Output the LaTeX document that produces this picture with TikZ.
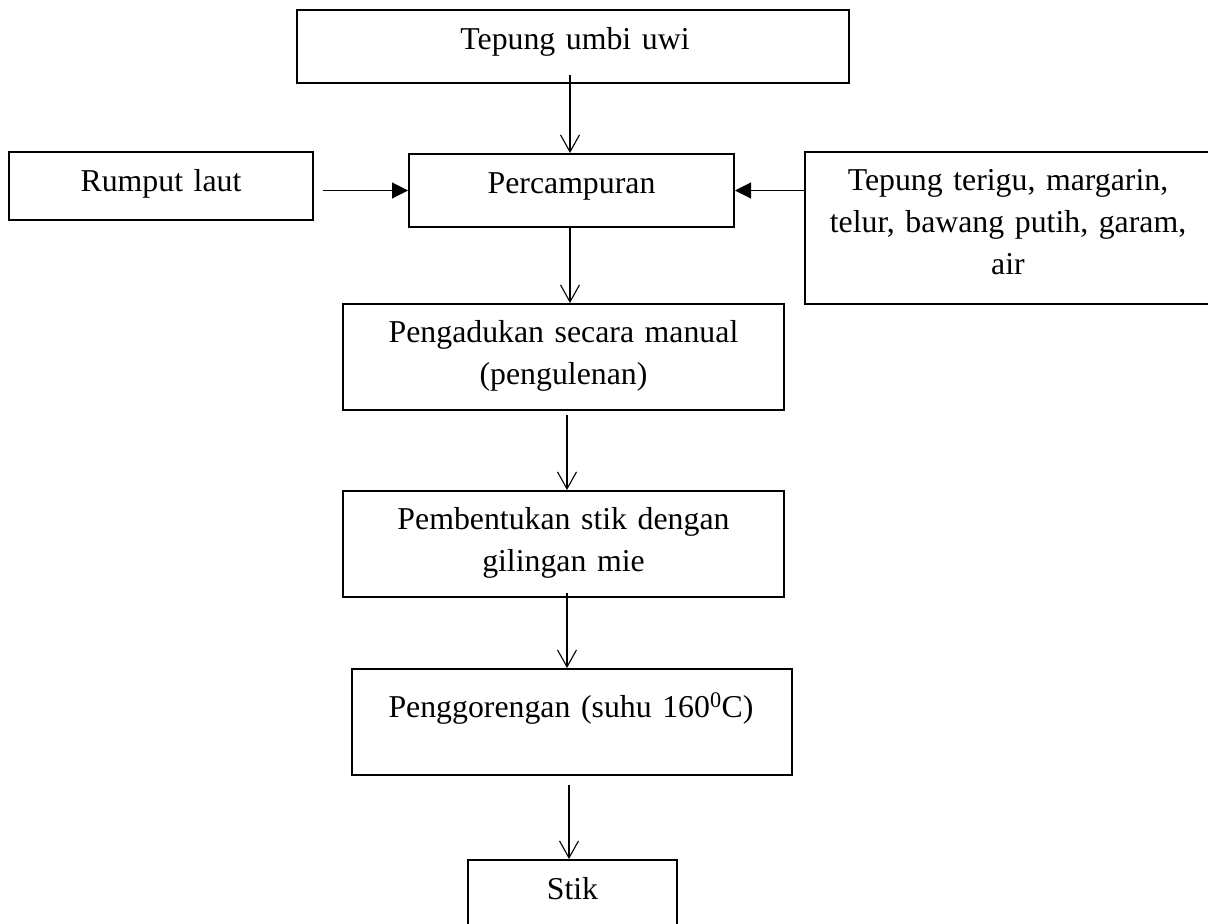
\documentclass[tikz,border=0pt]{standalone}
\usepackage{fontspec}
\setmainfont{Liberation Serif}
\usetikzlibrary{arrows.meta,calc}
\begin{document}
\begin{tikzpicture}[x=1pt,y=-1pt,
  box/.style={draw=black, line width=2pt, rectangle, inner sep=0pt},
  txt/.style={anchor=base, align=center, inner sep=0pt, text width=400pt,
    font=\fontsize{31.8}{42}\selectfont},
  varrow/.style={draw=black, line width=1.1pt, -{Straight Barb[length=17pt,width=19pt]}},
  harrow/.style={draw=black, line width=1.1pt, -{Triangle[length=16pt,width=16pt]}},
]
\useasboundingbox (0,0) rectangle (1208,924);
\clip (0,0) rectangle (1208,924);

% boxes
\node[box, minimum width=552pt, minimum height=73pt] (A) at (573,46.5) {};
\node[box, minimum width=304pt, minimum height=68pt] (R) at (161,186) {};
\node[box, minimum width=325pt, minimum height=73pt] (P) at (571.5,190.5) {};
\node[box, minimum width=406pt, minimum height=152pt] (T) at (1008,228) {};
\node[box, minimum width=441pt, minimum height=106pt] (G) at (563.5,357) {};
\node[box, minimum width=441pt, minimum height=106pt] (B) at (563.5,544) {};
\node[box, minimum width=440pt, minimum height=106pt] (F) at (572,722) {};
\node[box, minimum width=209pt, minimum height=72pt] (S) at (572.5,896) {};

% texts
\node[txt] (tA) at ($(A.north)+(2,40)$) {Tepung umbi uwi};
\node[txt] (tR) at ($(R.north)+(0,40)$) {Rumput laut};
\node[txt] (tP) at ($(P.north)+(0,40)$) {Percampuran};
\node[txt] (tT) at ($(T.north)+(0,39)$) {Tepung terigu, margarin,\\telur, bawang putih, garam,\\air};
\node[txt] (tG) at ($(G.north)+(0,39)$) {Pengadukan secara manual\\(pengulenan)};
\node[txt] (tB) at ($(B.north)+(0,39)$) {Pembentukan stik dengan\\gilingan mie};
\node[txt] (tF) at ($(F.north)+(-1,49)$) {Penggorengan (suhu 160\textsuperscript{0}C)};
\node[txt] (tS) at ($(S.north)+(0,40)$) {Stik};

% vertical connectors
\coordinate (a1) at ($(A.south)+(-3,-9)$);
\draw[varrow] (a1) -- (a1 |- P.north);
\coordinate (p1) at ($(P.south)+(-1.5,0)$);
\draw[varrow] (p1) -- (p1 |- G.north);
\coordinate (g1) at ($(G.south)+(3.5,4)$);
\draw[varrow] (g1) -- (g1 |- B.north);
\coordinate (b1) at ($(B.south)+(3.5,-5)$);
\draw[varrow] (b1) -- (b1 |- F.north);
\coordinate (f1) at ($(F.south)+(-3,9)$);
\draw[varrow] (f1) -- (f1 |- S.north);

% horizontal connectors
\coordinate (r1) at ($(R.east)+(9,0)$);
\draw[harrow] (r1 |- P.west) -- (P.west);
\draw[harrow] (T.west |- P.east) -- (P.east);
\end{tikzpicture}
\end{document}
